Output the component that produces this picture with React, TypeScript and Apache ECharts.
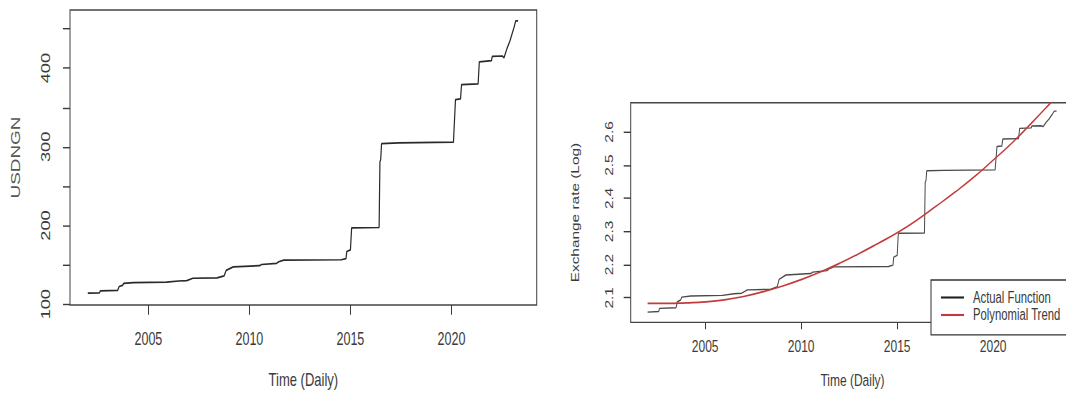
import React, { useEffect, useRef } from "react";
import * as echarts from "echarts";

// Daily USD/NGN series, read as change points (decimal year, rate)
const years = [
  2002.0, 2002.58, 2002.62, 2003.48, 2003.55, 2003.72, 2003.78, 2004.25, 2005.9, 2006.5,
  2006.9, 2007.2, 2008.4, 2008.75, 2008.85, 2009.2, 2010.5, 2010.6, 2011.35, 2011.45,
  2011.7, 2014.55, 2014.78, 2014.82, 2015.0, 2015.06, 2016.42, 2016.46, 2016.5, 2016.54,
  2017.4, 2020.1, 2020.2, 2020.45, 2020.5, 2021.32, 2021.38, 2021.98, 2022.02, 2022.52,
  2022.6, 2022.75, 2022.9, 2023.1, 2023.18, 2023.3,
];
const usdNgn = [
  114.0, 114.5, 117.0, 117.5, 122.5, 124.0, 126.5, 127.5, 128.0, 129.5,
  130.0, 133.0, 133.5, 136.0, 143.0, 147.5, 149.0, 150.5, 152.0, 154.0,
  156.0, 156.5, 158.0, 167.0, 169.0, 197.0, 197.5, 281.0, 284.0, 304.0,
  305.0, 306.0, 360.0, 361.0, 379.0, 380.0, 408.0, 409.5, 415.0, 415.5,
  413.0, 425.0, 435.0, 452.0, 460.0, 460.0,
];

// Polynomial trend of the log rate
const trendYears = [
  2002, 2003, 2004, 2005, 2006, 2007, 2008, 2009, 2010, 2011, 2012, 2013,
  2014, 2015, 2016, 2017, 2018, 2019, 2020, 2021, 2022, 2023, 2023.3,
];
const trendLog = [
  2.083, 2.083, 2.085, 2.088, 2.094, 2.104, 2.118, 2.135, 2.155, 2.178, 2.204, 2.233,
  2.264, 2.296, 2.333, 2.375, 2.418, 2.464, 2.515, 2.568, 2.627, 2.688, 2.707,
];

const xTicks = [2005, 2010, 2015, 2020];
const leftYTicks = [100, 150, 200, 250, 300, 350, 400, 450];
const leftYLabels = [100, 200, 300, 400];
const rightYTicks = [2.1, 2.2, 2.3, 2.4, 2.5, 2.6];

const STRETCH = 1.4;
const W = 1080;
const H = 396 / STRETCH;
const FONT = "'Liberation Sans', Arial, sans-serif";
const INK = "#3a3a3a";
const LINE_ICON = "path://M0,0 L46,0 L46,3 L0,3 Z";

export default function App() {
  const ref = useRef<HTMLDivElement>(null);

  useEffect(() => {
    if (!ref.current) return;
    const chart = echarts.init(ref.current, null, { renderer: "svg", width: W, height: H });

    const actual = years.map((y, i) => [y, usdNgn[i]]);
    const actualLog = years.map((y, i) => [y, Math.log10(usdNgn[i])]);
    const trend = trendYears.map((y, i) => [y, trendLog[i]]);

    const xAxisBase = (idx: number, fs: number, margin: number, tickLen: number, nameFs: number, nameGap: number) => ({
      type: "value",
      gridIndex: idx,
      min: 2001.12,
      max: 2024.22,
      axisLine: { show: false },
      splitLine: { show: false },
      axisTick: { show: true, inside: false, length: tickLen, customValues: xTicks, lineStyle: { color: INK, width: 1 } },
      axisLabel: {
        customValues: xTicks,
        formatter: (v: number) => String(v),
        fontSize: fs,
        color: INK,
        margin,
        verticalAlign: "middle",
        fontFamily: FONT,
      },
      name: "Time (Daily)",
      nameLocation: "middle",
      nameGap,
      nameTextStyle: { fontSize: nameFs, color: INK, verticalAlign: "middle", fontFamily: FONT },
    });

    const option: any = {
      animation: false,
      backgroundColor: "#ffffff",
      textStyle: { fontFamily: FONT },
      grid: [
        { left: 70, top: 7.1, width: 466.7, height: 210.8, show: true, borderColor: "#444", borderWidth: 1, backgroundColor: "transparent" },
        { left: 630.7, top: 73.4, width: 443.5, height: 161.8, show: true, borderColor: "#444", borderWidth: 1, backgroundColor: "transparent" },
      ],
      xAxis: [xAxisBase(0, 12.5, 24, 7, 13, 53.5), xAxisBase(1, 12, 17.4, 5, 12, 41.6)],
      yAxis: [
        {
          type: "value",
          gridIndex: 0,
          min: 99,
          max: 474,
          axisLine: { show: false },
          splitLine: { show: false },
          axisTick: { show: true, inside: false, length: 7, customValues: leftYTicks, lineStyle: { color: INK, width: 1 } },
          axisLabel: {
            customValues: leftYLabels,
            formatter: (v: number) => String(v),
            rotate: 90,
            fontSize: 13,
            color: INK,
            margin: 25,
            align: "center",
            verticalAlign: "middle",
            fontFamily: FONT,
          },
          name: "USDNGN",
          nameLocation: "middle",
          nameRotate: 90,
          nameGap: 55,
          nameTextStyle: { fontSize: 13.5, color: "#555", verticalAlign: "middle", align: "center", fontFamily: FONT },
        },
        {
          type: "value",
          gridIndex: 1,
          min: 2.026,
          max: 2.688,
          axisLine: { show: false },
          splitLine: { show: false },
          axisTick: { show: true, inside: false, length: 7, customValues: rightYTicks, lineStyle: { color: INK, width: 1 } },
          axisLabel: {
            customValues: rightYTicks,
            formatter: (v: number) => v.toFixed(1),
            rotate: 90,
            fontSize: 11,
            color: INK,
            margin: 21.7,
            align: "center",
            verticalAlign: "middle",
            fontFamily: FONT,
          },
          name: "Exchange rate (Log)",
          nameLocation: "middle",
          nameRotate: 90,
          nameGap: 55.7,
          nameTextStyle: { fontSize: 11, color: INK, verticalAlign: "middle", align: "center", fontFamily: FONT },
        },
      ],
      legend: {
        show: true,
        orient: "vertical",
        left: 931,
        top: 200,
        data: [
          { name: "Actual Function", icon: LINE_ICON },
          { name: "Polynomial Trend", icon: LINE_ICON },
        ],
        backgroundColor: "#ffffff",
        borderColor: "#333",
        borderWidth: 1,
        borderRadius: 0,
        padding: [7, 20, 8.7, 10],
        itemWidth: 23,
        itemHeight: 9,
        itemGap: 1.5,
        textStyle: { fontSize: 11.3, lineHeight: 9, color: INK, fontFamily: FONT, padding: [0, 0, 0, 4] },
      },
      series: [
        {
          name: "USD/NGN",
          type: "line",
          xAxisIndex: 0,
          yAxisIndex: 0,
          data: actual,
          symbol: "none",
          color: "#2a2a2a",
          lineStyle: { color: "#2a2a2a", width: 1.2 },
        },
        {
          name: "Actual Function",
          type: "line",
          xAxisIndex: 1,
          yAxisIndex: 1,
          data: actualLog,
          symbol: "none",
          color: "#222222",
          lineStyle: { color: "#4a4a4a", width: 1 },
        },
        {
          name: "Polynomial Trend",
          type: "line",
          xAxisIndex: 1,
          yAxisIndex: 1,
          data: trend,
          symbol: "none",
          smooth: true,
          color: "#c43a3a",
          lineStyle: { color: "#c43a3a", width: 1.2 },
        },
      ],
    };

    chart.setOption(option);
    return () => chart.dispose();
  }, []);

  return (
    <div style={{ position: "fixed", left: 0, top: 0, width: 1066, height: 396, overflow: "hidden", background: "#fff" }}>
      <div
        ref={ref}
        style={{ width: W, height: H, transform: `scaleY(${STRETCH})`, transformOrigin: "0 0" }}
      />
    </div>
  );
}
